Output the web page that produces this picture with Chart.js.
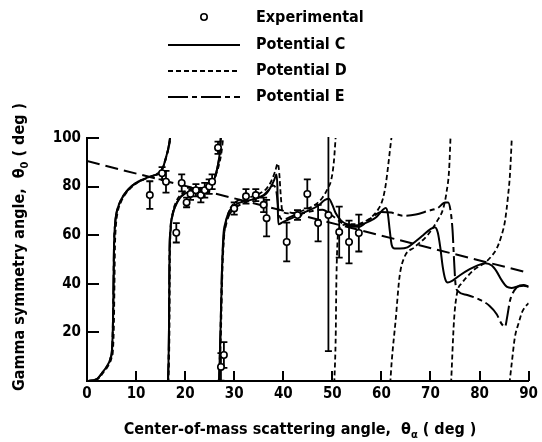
<!DOCTYPE html>
<html>
<head>
<meta charset="utf-8">
<script src="https://cdn.jsdelivr.net/npm/chart.js@4.4.1/dist/chart.umd.min.js"></script>
<style>
  body { margin: 0; background: #fff; }
  #wrap { width: 542px; height: 442px; }
</style>
</head>
<body>
<div id="wrap"><canvas id="gamma-symmetry" width="542" height="442"></canvas></div>
<script>
// axis ticks
const xTicks = [0, 10, 20, 30, 40, 50, 60, 70, 80, 90];
const yTicks = [0, 20, 40, 60, 80, 100];

// experimental points: scattering angle, symmetry angle, error
const expAngle = [12.8, 15.3, 16.1, 18.2, 19.3, 20.3, 21.1, 22.2, 23.2, 24.0, 24.9, 25.5, 26.7, 27.3, 27.9,
                  30.0, 32.4, 34.4, 36.0, 36.6, 40.7, 42.9, 44.9, 47.1, 49.2, 51.4, 53.4, 55.4];
const expTheta = [76.5, 85.5, 82, 61, 81.5, 73.5, 77, 78.5, 76.5, 78.5, 80, 82, 96, 5.8, 10.7,
                  71, 76, 76.5, 72.5, 67, 57.2, 68.3, 77, 65, 68.3, 61.3, 57.2, 60.9];
const expError = [5.7, 2.5, 4.5, 4, 3.5, 2, 2.5, 2.5, 3, 3, 3, 3, 2.5, 5.7, 5.3,
                  2.5, 3, 2.5, 3, 7.5, 8, 2, 6, 7.5, 56, 10.5, 8.8, 7.6];

// potential C, one array per branch (angle wraps past 0/100)
const potC1 = [[0, 0], [2, 0.8], [3.2, 3.7], [4.2, 6.5], [4.8, 9.5], [5.1, 13], [5.3, 25], [5.4, 40], [5.5, 55],
               [5.7, 64], [6.0, 69], [6.7, 73.5], [7.5, 76.5], [8.5, 79], [10, 81.5], [11.5, 83], [12.7, 84],
               [14, 84.8], [15, 86], [15.6, 88.5], [16.1, 92], [16.6, 96], [17.0, 101]];
const potC2 = [[16.5, -1], [16.7, 20], [16.8, 50], [17.0, 62], [17.4, 68], [18, 72], [19, 75.5], [20, 77.2],
               [21.5, 78.2], [23, 78.8], [24.5, 79.5], [25.5, 81], [26.1, 84], [26.6, 88], [27.0, 93], [27.3, 101]];
const potC3 = [[26.9, -1], [27.2, 20], [27.5, 45], [27.8, 60], [28.2, 65], [28.8, 69], [29.6, 71.5], [31, 73.3],
               [33, 74.3], [35, 75.5], [36.5, 77], [37.5, 80], [38.2, 83], [38.6, 85], [38.8, 80], [38.9, 70],
               [39.0, 64.5], [40, 65.5], [41.5, 66.8], [43, 68.2], [45, 70], [47, 72], [48.5, 74.5], [49.3, 75],
               [50, 72.5], [50.7, 69], [51.8, 66], [53, 64.5], [54.5, 64], [56, 64.5], [57.5, 65.7], [59, 67.5],
               [60.3, 70.5], [60.9, 71.2], [61.3, 69], [61.7, 62], [62.1, 56], [62.7, 54.5], [63.8, 54.5],
               [65.3, 55], [67, 57.5], [68.5, 60], [70, 62.5], [70.9, 63.3], [71.5, 61], [72, 55], [72.5, 47],
               [73, 42], [73.5, 40.5], [74.5, 41.3], [76, 43.5], [78, 46], [79.5, 47.5], [81.2, 48.5],
               [82.5, 47.5], [83.5, 45], [84.5, 41.5], [85.6, 38.7], [86.5, 38.3], [88, 39], [89, 39.2], [90, 38.8]];

// potential D
const potD1 = [[0, 0], [2.2, 0.8], [3.4, 3.7], [4.4, 6.5], [5.0, 9.5], [5.3, 13], [5.5, 25], [5.6, 40], [5.7, 55],
               [5.9, 64], [6.2, 69], [6.9, 73.5], [7.7, 76.5], [8.7, 79], [10.2, 81.5], [11.7, 83], [12.8, 84],
               [14, 85], [15, 86.5], [15.7, 89], [16.2, 92.5], [16.7, 96.5], [17.1, 101]];
const potD2 = [[16.6, -1], [16.8, 20], [16.9, 50], [17.1, 63], [17.5, 69.5], [18.1, 73.5], [19, 76.5], [20, 78],
               [21.5, 79], [23, 79.5], [24.5, 80.3], [25.6, 82], [26.3, 85], [26.9, 89], [27.4, 94], [27.8, 101]];
const potD3 = [[27.0, -1], [27.3, 20], [27.6, 45], [27.9, 58], [28.2, 64], [28.8, 69], [29.5, 72], [31, 74.5],
               [33, 75.5], [35, 77], [36.5, 79], [37.5, 82], [38.3, 86], [38.9, 89.5], [39.2, 85], [39.5, 76],
               [39.8, 70], [41, 69], [43, 69.5], [45, 71], [46.5, 72.5], [48, 75.5], [49, 79], [49.8, 83],
               [50.3, 90], [50.7, 101]];
const potD4 = [[50.4, -1], [50.7, 20], [50.8, 38], [51, 55], [51.3, 62], [52, 64], [53.5, 64.5], [55, 64.5],
               [56.5, 65.5], [58, 67.5], [59.3, 70.5], [60.3, 75], [60.9, 81], [61.4, 89], [61.8, 96], [62.1, 101]];
const potD5 = [[61.8, -1], [62.1, 8], [62.9, 25], [63.7, 43], [64.7, 51], [66.7, 55], [69.4, 60], [71.4, 66],
               [72.6, 71], [73.3, 78], [73.8, 87], [74.1, 101]];
const potD6 = [[74.2, -1], [74.8, 25], [75.4, 36], [76.5, 40.5], [77.5, 43], [79, 46], [81, 48.5], [82.5, 51.5],
               [83.5, 54.5], [84.5, 60], [85.2, 66], [85.8, 76], [86.2, 85], [86.6, 101]];
const potD7 = [[86.1, -1], [86.6, 8], [87.2, 18], [88, 24], [88.6, 28], [89.3, 30.5], [90, 32]];

// potential E
const potE1 = potC1;
const potE2 = potC2;
const potE3 = [[26.9, -1], [27.2, 20], [27.5, 45], [27.8, 58], [28.3, 64], [29, 68.5], [30, 71], [32, 73.3],
               [34, 74.8], [36, 76.5], [37.2, 79], [38, 80.5], [38.6, 78], [39.2, 68], [40, 66.5], [42, 68],
               [44, 69], [46, 70], [48, 70.5], [50, 68], [52, 65], [54, 63.5], [55.5, 63.5], [57, 65.5],
               [58.5, 68], [60, 69.5], [62, 69.3], [64.5, 68], [67, 68.5], [69.5, 70], [71.5, 71.2], [73, 73.5],
               [73.6, 73.5], [74.1, 70], [74.5, 62], [74.8, 50], [75.1, 40], [75.6, 37], [77.5, 35.4], [80, 33.5],
               [82, 31], [83.5, 27.5], [84.5, 23.5], [85.2, 22.3], [85.6, 26], [86.2, 33], [87, 37], [88.2, 39.3],
               [89, 39.5], [90, 38.8]];

// long-dashed straight line
const trendLine = [[0, 90.5], [90, 44.5]];

const FONT = '"DejaVu Sans Condensed", "Liberation Sans Narrow", sans-serif';
const DASH_D = [5, 3];
const DASH_E = [20, 4, 5, 4];
const DASH_TREND = [13, 6];

function joinBranches(branches) {
    const pts = [];
    branches.forEach((b, i) => {
        if (i > 0) pts.push({ x: b[0][0], y: null });
        b.forEach(p => pts.push({ x: p[0], y: p[1] }));
    });
    return pts;
}

function curve(label, branches, dash, width) {
    return {
        label: label,
        data: joinBranches(branches),
        borderColor: "#000",
        borderWidth: width,
        borderDash: dash,
        pointRadius: 0,
        fill: false,
        cubicInterpolationMode: "monotone",
        order: 2,
    };
}

const expPoints = expAngle.map((a, i) => ({ x: a, y: expTheta[i] }));

// error bars under the circles
const errorBars = {
    id: "errorBars",
    beforeDatasetDraw(chart, args) {
        if (args.index !== 0) return;
        const { ctx, chartArea, scales } = chart;
        ctx.save();
        ctx.beginPath();
        ctx.rect(chartArea.left, chartArea.top - 1, chartArea.right - chartArea.left, chartArea.bottom - chartArea.top + 1);
        ctx.clip();
        ctx.strokeStyle = "#000";
        ctx.lineWidth = 1.8;
        expAngle.forEach((a, i) => {
            const px = scales.x.getPixelForValue(a);
            const top = scales.y.getPixelForValue(expTheta[i] + expError[i]);
            const bot = scales.y.getPixelForValue(expTheta[i] - expError[i]);
            ctx.beginPath();
            ctx.moveTo(px, top);
            ctx.lineTo(px, bot);
            ctx.moveTo(px - 3.5, top);
            ctx.lineTo(px + 3.5, top);
            ctx.moveTo(px - 3.5, bot);
            ctx.lineTo(px + 3.5, bot);
            ctx.stroke();
        });
        ctx.restore();
    }
};

// inward tick marks, axis titles and legend
const decorations = {
    id: "decorations",
    afterDraw(chart) {
        const { ctx, chartArea, scales } = chart;
        ctx.save();
        ctx.strokeStyle = "#000";
        ctx.lineWidth = 2;
        ctx.setLineDash([]);
        xTicks.slice(1).forEach(v => {
            const px = Math.round(scales.x.getPixelForValue(v));
            ctx.beginPath();
            ctx.moveTo(px, chartArea.bottom);
            ctx.lineTo(px, chartArea.bottom - 10);
            ctx.stroke();
        });
        yTicks.slice(1).forEach(v => {
            const py = Math.round(scales.y.getPixelForValue(v));
            ctx.beginPath();
            ctx.moveTo(chartArea.left, py);
            ctx.lineTo(chartArea.left + 12, py);
            ctx.stroke();
        });

        ctx.fillStyle = "#000";
        ctx.textBaseline = "alphabetic";

        // x title with subscript
        const xParts = ["Center-of-mass scattering angle,  \u03b8", "\u03b1", " ( deg )"];
        drawSubscripted(ctx, xParts, 300, 434, 0);
        // y title, rotated
        const yParts = ["Gamma symmetry angle,  \u03b8", "0", " ( deg )"];
        drawSubscripted(ctx, yParts, 24, 247, -Math.PI / 2);

        // legend
        ctx.font = "bold 16px " + FONT;
        ctx.textAlign = "left";
        ctx.textBaseline = "middle";
        const legend = [
            ["Experimental", null, 18],
            ["Potential C", [], 45],
            ["Potential D", DASH_D, 71],
            ["Potential E", DASH_E, 97],
        ];
        legend.forEach(([text, dash, y]) => {
            if (dash === null) {
                ctx.beginPath();
                ctx.setLineDash([]);
                ctx.lineWidth = 1.6;
                ctx.fillStyle = "#fff";
                ctx.arc(204, y - 1, 3.2, 0, Math.PI * 2);
                ctx.fill();
                ctx.stroke();
            } else {
                ctx.beginPath();
                ctx.setLineDash(dash);
                ctx.lineWidth = 2;
                ctx.moveTo(168, y);
                ctx.lineTo(240, y);
                ctx.stroke();
            }
            ctx.fillStyle = "#000";
            ctx.fillText(text, 256, y);
        });
        ctx.restore();
    }
};

function drawSubscripted(ctx, parts, cx, cy, angle) {
    const big = "bold 16px " + FONT;
    const small = "bold 11px " + FONT;
    ctx.font = big;
    const w0 = ctx.measureText(parts[0]).width;
    const w2 = ctx.measureText(parts[2]).width;
    ctx.font = small;
    const w1 = ctx.measureText(parts[1]).width;
    const total = w0 + w1 + w2;
    ctx.save();
    ctx.translate(cx, cy);
    ctx.rotate(angle);
    ctx.textAlign = "left";
    let x = -total / 2;
    ctx.font = big;
    ctx.fillText(parts[0], x, 0);
    x += w0;
    ctx.font = small;
    ctx.fillText(parts[1], x, 4);
    x += w1;
    ctx.font = big;
    ctx.fillText(parts[2], x, 0);
    ctx.restore();
}

const config = {
    type: "line",
    data: {
        datasets: [
            {
                type: "scatter",
                label: "Experimental",
                data: expPoints,
                pointRadius: 3.2,
                pointBackgroundColor: "#fff",
                pointBorderColor: "#000",
                pointBorderWidth: 1.6,
                showLine: false,
                order: 0,
            },
            curve("Potential C", [potC1, potC2, potC3], [], 2),
            curve("Potential D", [potD1, potD2, potD3, potD4, potD5, potD6, potD7], DASH_D, 1.8),
            curve("Potential E", [potE1, potE2, potE3], DASH_E, 2),
            {
                label: "trend",
                data: trendLine.map(p => ({ x: p[0], y: p[1] })),
                borderColor: "#000",
                borderWidth: 2,
                borderDash: DASH_TREND,
                pointRadius: 0,
                order: 3,
            },
        ],
    },
    options: {
        responsive: false,
        animation: false,
        layout: {
            padding: { left: 0, top: 138, right: 10, bottom: 0 },
        },
        scales: {
            x: {
                type: "linear",
                min: 0,
                max: 90,
                afterBuildTicks: s => { s.ticks = xTicks.map(v => ({ value: v })); },
                afterFit: s => { s.height = 61; },
                ticks: {
                    color: "#000",
                    padding: 4,
                    font: { family: FONT, weight: "bold", size: 15 },
                },
                grid: { display: true, drawOnChartArea: false, drawTicks: false },
                border: { display: true, color: "#000", width: 2 },
            },
            y: {
                min: 0,
                max: 100,
                afterBuildTicks: s => { s.ticks = yTicks.map(v => ({ value: v })); },
                afterFit: s => { s.width = 87; },
                ticks: {
                    color: "#000",
                    padding: 6,
                    font: { family: FONT, weight: "bold", size: 15 },
                    callback: v => (v === 0 ? "" : v),
                },
                grid: { display: true, drawOnChartArea: false, drawTicks: false },
                border: { display: true, color: "#000", width: 2 },
            },
        },
        plugins: {
            legend: { display: false },
            tooltip: { enabled: false },
        },
    },
    plugins: [errorBars, decorations],
};

new Chart(document.getElementById("gamma-symmetry"), config);
</script>
</body>
</html>
